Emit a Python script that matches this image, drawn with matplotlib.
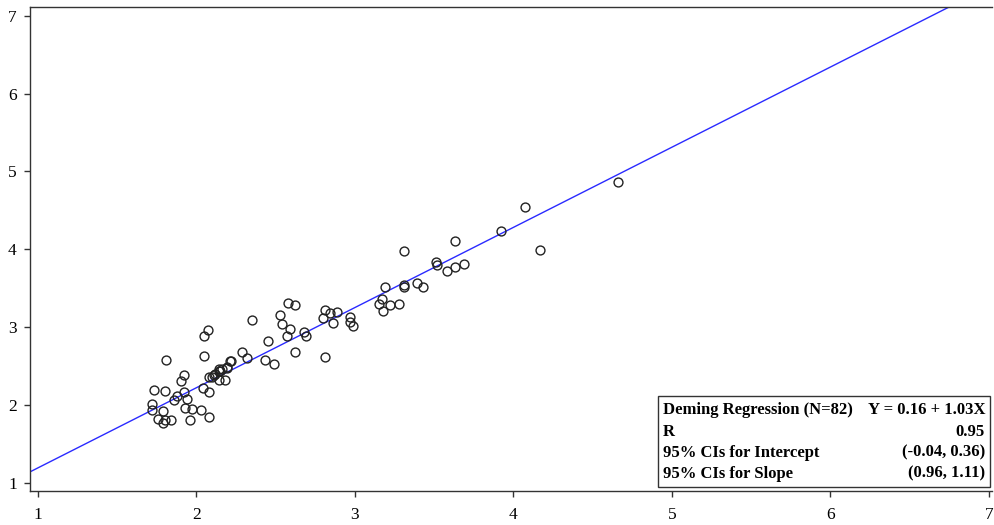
import matplotlib
matplotlib.use("Agg")
import matplotlib.pyplot as plt
from matplotlib.patches import Rectangle
import numpy as np

plt.rcParams["font.family"] = ["Liberation Serif", "DejaVu Serif"]

# points (x, y)
x_vals = [
    1.81, 2.05, 2.21, 2.19, 2.14, 2.08, 2.10, 2.12, 2.14, 2.16, 2.19, 2.22, 2.14, 2.18,
    1.92, 1.90, 1.73, 1.80, 2.04, 2.08, 1.92, 1.88, 1.86, 1.94, 1.72, 1.72, 1.79,
    1.93, 1.97, 2.03, 2.08, 1.76, 1.80, 1.79, 1.84, 1.96, 2.15, 2.11,
    2.58, 2.62, 2.53, 2.54, 2.59, 2.57, 2.62, 2.35, 2.07, 2.05, 2.45, 2.29, 2.32,
    2.43, 2.49,
    3.19, 3.31, 3.31, 3.17, 3.15, 3.22, 3.28, 3.18, 2.81, 2.84, 2.89, 2.80, 2.86,
    2.97, 2.97, 2.99, 2.68, 2.69, 2.81,
    3.31, 3.63, 3.51, 3.52, 3.58, 3.63, 3.69, 3.39, 3.43,
    4.075, 3.92, 4.17, 4.66,
]
y_vals = [
    2.57, 2.63, 2.56, 2.47, 2.46, 2.36, 2.36, 2.40, 2.44, 2.46, 2.49, 2.56, 2.32, 2.32,
    2.38, 2.30, 2.19, 2.18, 2.22, 2.16, 2.16, 2.11, 2.06, 2.07, 2.01, 1.93, 1.92,
    1.96, 1.94, 1.93, 1.84, 1.82, 1.81, 1.77, 1.80, 1.81, 2.43, 2.38,
    3.31, 3.28, 3.16, 3.04, 2.97, 2.88, 2.68, 3.09, 2.96, 2.88, 2.82, 2.68, 2.60,
    2.58, 2.52,
    3.51, 3.54, 3.51, 3.36, 3.29, 3.28, 3.30, 3.20, 3.22, 3.18, 3.19, 3.11, 3.05,
    3.13, 3.06, 3.01, 2.93, 2.88, 2.62,
    3.98, 4.11, 3.83, 3.80, 3.72, 3.77, 3.81, 3.57, 3.52,
    4.54, 4.23, 3.99, 4.86,
]

intercept, slope = 0.16, 1.03
ticks = [1, 2, 3, 4, 5, 6, 7]

stats_left = ["Deming Regression (N=82)", "R", "95% CIs for Intercept", "95% CIs for Slope"]
stats_right = ["Y = 0.16 + 1.03X", "0.95", "(-0.04, 0.36)", "(0.96, 1.11)"]

fig = plt.figure(figsize=(9.94, 5.25), dpi=100)
ax = fig.add_axes([0.0302, 0.0648, 0.9678, 0.9213])

xlo, xhi = 0.95, 7.02
xl = np.array([xlo, xhi])
ax.plot(xl, intercept + slope * xl, color="#2a2aff", lw=1.0, zorder=2)
ax.plot(x_vals, y_vals, "o", mfc="none", mec="#222222", mew=1.0, ms=6.4, zorder=3)

ax.set_xlim(xlo, xhi)
ax.set_ylim(0.893, 7.108)
ax.set_xticks(ticks)
ax.set_yticks(ticks)
ax.tick_params(direction="out", length=4.5, width=1, colors="#333333",
               labelcolor="black", labelsize=12.5, pad=5)
ax.tick_params(axis="x", pad=7)

for s in ["left", "bottom", "top"]:
    ax.spines[s].set_color("#333333")
    ax.spines[s].set_linewidth(1.0)
ax.spines["right"].set_visible(False)

# statistics box
fig.patches.append(Rectangle((0.662, 0.0724), 0.334, 0.1733, transform=fig.transFigure,
                             fill=True, facecolor="white", edgecolor="#333333", lw=1.0,
                             zorder=5))
rows_y = [0.219, 0.178, 0.138, 0.098]
for yy, lt, rt in zip(rows_y, stats_left, stats_right):
    fig.text(0.667, yy, lt, ha="left", va="center", fontsize=12, fontweight="bold", zorder=6)
    fig.text(0.991, yy, rt, ha="right", va="center", fontsize=12, fontweight="bold", zorder=6)

fig.savefig("out.png", dpi=100)
